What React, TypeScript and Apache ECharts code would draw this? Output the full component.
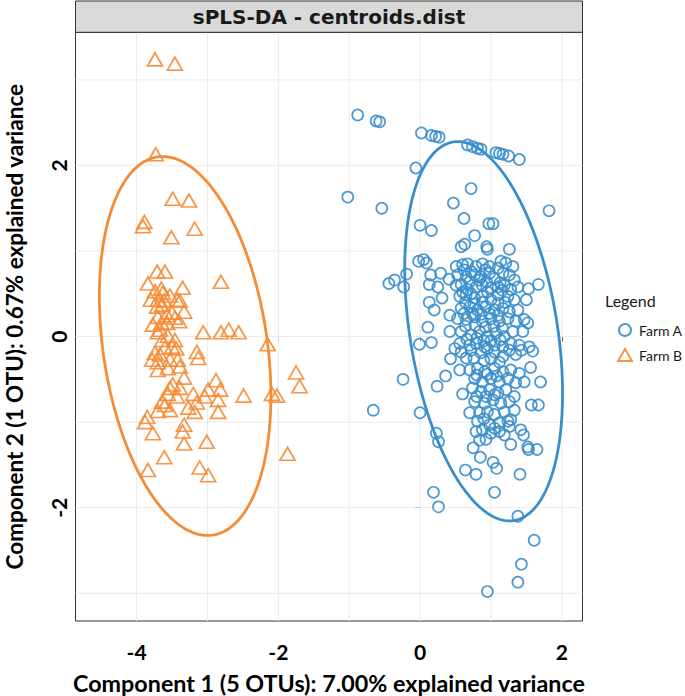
import React, { useEffect, useRef } from "react";
import * as echarts from "echarts";

// Axis extents (data units)
const xRange = [-4.862, 2.292];
const yRange = [-3.324, 3.556];
const xTickValues = [-4, -2, 0, 2];
const yTickValues = [-2, 0, 2];
const xGridValues = [-4, -3, -2, -1, 0, 1, 2];
const yGridValues = [-3, -2, -1, 0, 1, 2, 3];

const seriesNames = ["Farm A", "Farm B"];
const seriesColors = ["#388ECC", "#F68B33"];

// Farm A individuals (Component 1, Component 2)
const farmAPoints: [number, number][] = [
  [-0.88, 2.59], [-0.62, 2.52], [-0.57, 2.51], [0.02, 2.38], [0.16, 2.35], [0.22, 2.34], [0.27, 2.33],
  [0.67, 2.24], [0.74, 2.22], [0.81, 2.2], [0.86, 2.19], [1.07, 2.15], [1.12, 2.14], [1.17, 2.13],
  [1.25, 2.11], [1.4, 2.07], [-0.06, 1.97], [-1.02, 1.63], [0.72, 1.73], [-0.54, 1.5], [1.82, 1.47],
  [0.47, 1.56], [0.62, 1.38], [0.0, 1.3], [0.16, 1.24], [0.97, 1.32], [1.03, 1.32], [0.77, 1.18],
  [0.58, 1.05], [0.63, 1.08], [0.94, 1.05], [0.95, 1.02], [1.26, 1.02], [-0.02, 0.88], [0.05, 0.9],
  [0.09, 0.86], [-0.19, 0.73], [-0.44, 0.62], [-0.36, 0.66], [-0.23, 0.58], [0.15, 0.72], [0.29, 0.74],
  [0.13, 0.61], [0.25, 0.58], [0.41, 0.67], [0.31, 0.45], [0.13, 0.4], [0.2, 0.31], [0.42, 0.25],
  [1.53, 0.56], [1.67, 0.61], [1.5, 0.43], [0.11, 0.11],
  [0.51, 0.82], [0.6, 0.84], [0.67, 0.85], [0.79, 0.82], [0.88, 0.85], [0.98, 0.82], [1.14, 0.88],
  [1.21, 0.86], [1.31, 0.82],
  [0.53, 0.72], [0.65, 0.7], [0.77, 0.72], [0.86, 0.7], [0.98, 0.74], [1.05, 0.68], [1.17, 0.74],
  [1.26, 0.72], [1.33, 0.66],
  [0.51, 0.6], [0.58, 0.61], [0.67, 0.55], [0.79, 0.58], [0.88, 0.6], [1.0, 0.57], [1.1, 0.58],
  [1.19, 0.6], [1.28, 0.55], [1.38, 0.58],
  [0.56, 0.47], [0.65, 0.49], [0.77, 0.45], [0.88, 0.47], [1.0, 0.43], [1.1, 0.49], [1.24, 0.47],
  [1.33, 0.43],
  [0.58, 0.33], [0.7, 0.35], [0.81, 0.31], [0.93, 0.35], [1.05, 0.31], [1.17, 0.33], [1.26, 0.29],
  [1.38, 0.31],
  [0.53, 0.21], [0.65, 0.2], [0.77, 0.23], [0.88, 0.18], [1.0, 0.21], [1.12, 0.18], [1.24, 0.21],
  [1.35, 0.18], [1.47, 0.2], [1.52, 0.16], [1.45, 0.06], [0.42, 0.06],
  [0.58, 0.06], [0.72, 0.02], [0.84, 0.06], [0.95, 0.0], [1.07, 0.04], [1.19, 0.0], [1.31, 0.06],
  [-0.01, -0.09], [0.16, -0.07], [0.56, -0.08], [0.7, -0.1], [0.79, -0.08], [0.91, -0.12], [1.05, -0.1],
  [1.17, -0.12], [1.28, -0.08], [1.4, -0.1], [1.54, -0.12], [1.59, -0.17],
  [0.49, -0.14], [0.58, -0.18], [0.65, -0.25], [0.72, -0.16], [0.86, -0.19], [0.95, -0.14], [1.05, -0.18],
  [1.17, -0.23], [1.26, -0.16], [1.35, -0.21], [1.43, -0.16], [0.43, -0.26],
  [-0.24, -0.5], [0.24, -0.58], [0.36, -0.46], [0.0, -0.89], [0.23, -1.13], [0.26, -1.23], [0.56, -0.39],
  [0.6, -0.67], [1.56, -0.36], [1.7, -0.53], [1.57, -0.8], [1.67, -0.8],
  [0.7, -0.39], [0.81, -0.37], [0.91, -0.41], [1.05, -0.37], [1.17, -0.41], [1.28, -0.39], [1.4, -0.43],
  [1.47, -0.53],
  [0.77, -0.49], [0.88, -0.53], [1.0, -0.49], [1.12, -0.53], [1.24, -0.49], [1.35, -0.54],
  [0.74, -0.6], [0.86, -0.64], [0.98, -0.62], [1.1, -0.66], [1.21, -0.62], [1.33, -0.7],
  [0.77, -0.76], [0.91, -0.78], [1.03, -0.74], [1.14, -0.78], [1.26, -0.76],
  [0.7, -0.89], [0.84, -0.89], [0.95, -0.88], [1.05, -0.91], [1.19, -0.88], [1.33, -0.86],
  [0.81, -0.99], [0.98, -1.03], [1.12, -1.01], [1.24, -0.99], [1.28, -0.97],
  [0.79, -1.11], [0.88, -1.09], [1.0, -1.13], [1.12, -1.11], [1.19, -1.15], [1.26, -1.05], [0.84, -1.21],
  [1.42, -1.09], [1.46, -1.15], [1.28, -1.26], [1.52, -1.29], [1.53, -1.32], [1.65, -1.32],
  [0.75, -1.3], [0.85, -1.41], [1.03, -1.47], [1.08, -1.54], [0.64, -1.56], [0.79, -1.61], [1.41, -1.61],
  [1.05, -1.82], [0.19, -1.82], [0.26, -1.99], [1.38, -2.1], [1.61, -2.38], [1.43, -2.66], [1.38, -2.87],
  [0.95, -2.98], [-0.66, -0.86],
  // overlapping individuals in the dense core
  [0.62, 0.78], [0.72, 0.76], [0.92, 0.78], [1.1, 0.8], [0.7, 0.64], [0.83, 0.66], [0.94, 0.64],
  [1.13, 0.63], [0.6, 0.52], [0.72, 0.5], [0.95, 0.52], [1.16, 0.54], [0.64, 0.4], [0.76, 0.38],
  [0.88, 0.4], [1.1, 0.39], [1.2, 0.4], [0.62, 0.27], [0.74, 0.27], [0.86, 0.26], [0.98, 0.27],
  [1.1, 0.25], [0.64, 0.12], [0.78, 0.13], [0.92, 0.11], [1.04, 0.12], [1.16, 0.1], [0.66, -0.03],
  [0.8, -0.02], [0.9, -0.05], [1.0, -0.05], [1.13, -0.04], [0.76, -0.25], [0.9, -0.28], [1.0, -0.26],
  [1.12, -0.3], [0.8, -0.45], [0.95, -0.44], [1.08, -0.46], [0.8, -0.7], [0.93, -0.7], [1.05, -0.68],
  [0.9, -0.96], [1.05, -1.07], [0.93, -1.2],
];

// Farm B individuals (Component 1, Component 2)
const farmBPoints: [number, number][] = [
  [-3.74, 3.24], [-3.46, 3.19], [-3.73, 2.13], [-3.49, 1.61], [-3.26, 1.59], [-3.89, 1.34], [-3.91, 1.29],
  [-3.18, 1.26], [-3.51, 1.16], [-2.81, 0.64], [-3.71, 0.76], [-3.6, 0.76], [-3.84, 0.62], [-3.35, 0.57],
  [-3.74, 0.53], [-3.65, 0.56], [-3.7, 0.43], [-3.61, 0.42], [-3.43, 0.43], [-3.39, 0.42], [-3.71, 0.35],
  [-3.64, 0.37], [-3.33, 0.29], [-3.5, 0.28], [-3.57, 0.25], [-3.7, 0.23], [-3.4, 0.18], [-3.65, 0.16],
  [-3.57, 0.16], [-3.77, 0.14], [-3.7, 0.05], [-3.06, 0.05], [-2.81, 0.05], [-2.7, 0.08], [-2.56, 0.05],
  [-2.15, -0.09], [-3.64, -0.04], [-3.6, -0.13], [-3.5, -0.12], [-3.44, -0.14], [-3.15, -0.18],
  [-3.13, -0.25], [-3.74, -0.19], [-3.67, -0.21], [-3.78, -0.27], [-3.53, -0.27], [-3.42, -0.27],
  [-3.7, -0.3], [-3.7, -0.39], [-3.56, -0.37], [-3.39, -0.35], [-3.33, -0.48], [-2.88, -0.51],
  [-3.49, -0.56], [-3.53, -0.6], [-3.39, -0.6], [-2.99, -0.62], [-2.82, -0.62], [-3.2, -0.67],
  [-3.56, -0.67], [-3.43, -0.7], [-3.04, -0.7], [-2.49, -0.69], [-2.09, -0.67], [-2.02, -0.69],
  [-3.64, -0.76], [-3.6, -0.8], [-3.15, -0.77], [-2.85, -0.74], [-3.27, -0.83], [-3.53, -0.86],
  [-3.7, -0.87], [-3.18, -0.88], [-2.85, -0.88], [-3.85, -0.94], [-3.88, -1.0], [-3.33, -1.03],
  [-3.35, -1.11], [-3.77, -1.13], [-3.33, -1.25], [-3.01, -1.23], [-1.87, -1.37], [-3.61, -1.41],
  [-3.84, -1.56], [-3.11, -1.53], [-2.99, -1.62], [-1.75, -0.42], [-1.7, -0.58], [-3.63, 0.51],
  [-3.53, 0.48], [-3.8, 0.43], [-3.46, 0.22], [-3.67, 0.08], [-3.56, 0.01], [-3.46, -0.04],
];

// 95% confidence ellipses: centre, offset of top-most point, half width through centre
const ellipseCentres = [[0.897, 0.062], [-3.315, -0.11]];
const ellipseTopOffsets = [[-0.365, 2.216], [-0.317, 2.214]];
const ellipseHalfWidths = [1.052, 1.168];

function ellipsePath(i: number): [number, number][] {
  const [cx, cy] = ellipseCentres[i];
  const [tx, ty] = ellipseTopOffsets[i];
  const hw = ellipseHalfWidths[i];
  const pts: [number, number][] = [];
  const n = 240;
  for (let k = 0; k <= n; k++) {
    const t = (2 * Math.PI * k) / n;
    pts.push([cx + tx * Math.cos(t) + hw * Math.sin(t), cy + ty * Math.cos(t)]);
  }
  return pts;
}

const AXIS_FONT = "Lato";

export default function App() {
  const ref = useRef<HTMLDivElement>(null);
  useEffect(() => {
    document.body.style.margin = "0";
    if (!ref.current) return;
    const chart = echarts.init(ref.current, undefined, { renderer: "svg" });

    const gridSeries: any[] = [];
    xGridValues.forEach((v) =>
      gridSeries.push({
        type: "line",
        name: "gx" + v,
        data: [[v, yRange[0]], [v, yRange[1]]],
        symbol: "none",
        silent: true,
        z: 1,
        lineStyle: { color: "#EBEBEB", width: 1 },
      })
    );
    yGridValues.forEach((v) =>
      gridSeries.push({
        type: "line",
        name: "gy" + v,
        data: [[xRange[0], v], [xRange[1], v]],
        symbol: "none",
        silent: true,
        z: 1,
        lineStyle: { color: "#EBEBEB", width: 1 },
      })
    );

    const option: any = {
      animation: false,
      backgroundColor: "#ffffff",
      grid: {
        left: 75.5,
        right: 102.5,
        top: 32.3,
        bottom: 75,
        show: true,
        borderColor: "#333333",
        borderWidth: 1,
        backgroundColor: "#ffffff",
        containLabel: false,
        outerBoundsMode: "none",
      },
      xAxis: {
        type: "value",
        min: xRange[0],
        max: xRange[1],
        splitLine: { show: false },
        axisLine: { show: false },
        axisTick: {
          show: true,
          customValues: xTickValues,
          length: 5,
          lineStyle: { color: "#333333", width: 1 },
        },
        axisLabel: {
          customValues: xTickValues,
          fontFamily: AXIS_FONT,
          fontWeight: "bold",
          fontSize: 21,
          color: "#000000",
          margin: 20,
        },
        name: "Component 1 (5 OTUs): 7.00% explained variance",
        nameLocation: "middle",
        nameGap: 50,
        nameTextStyle: { fontFamily: AXIS_FONT, fontWeight: "bold", fontSize: 23.3, color: "#000000" },
      },
      yAxis: {
        type: "value",
        min: yRange[0],
        max: yRange[1],
        splitLine: { show: false },
        axisLine: { show: false },
        axisTick: {
          show: true,
          customValues: yTickValues,
          length: 5,
          lineStyle: { color: "#333333", width: 1 },
        },
        axisLabel: {
          customValues: yTickValues,
          rotate: 90,
          fontFamily: AXIS_FONT,
          fontWeight: "bold",
          fontSize: 21,
          color: "#000000",
          margin: 7,
        },
        name: "Component 2 (1 OTU): 0.67% explained variance",
        nameLocation: "middle",
        nameRotate: 90,
        nameGap: 49,
        nameTextStyle: {
          fontFamily: AXIS_FONT,
          fontWeight: "bold",
          fontSize: 22.5,
          lineHeight: 24,
          color: "#000000",
        },
      },
      legend: {
        orient: "vertical",
        left: 612,
        top: 317,
        itemWidth: 14,
        itemHeight: 12,
        itemGap: 9,
        textStyle: { fontFamily: AXIS_FONT, fontSize: 14, color: "#1A1A1A", lineHeight: 16, padding: [0, 0, 0, 2] },
        data: [
          {
            name: seriesNames[0],
            icon: "circle",
            itemStyle: { color: "rgba(0,0,0,0)", borderColor: seriesColors[0], borderWidth: 2 },
          },
          {
            name: seriesNames[1],
            icon: "triangle",
            itemStyle: { color: "rgba(0,0,0,0)", borderColor: seriesColors[1], borderWidth: 2 },
          },
        ],
      },
      graphic: [
        {
          type: "rect",
          shape: { x: 75.5, y: 1, width: 507, height: 31.3 },
          style: { fill: "#D9D9D9", stroke: "#333333", lineWidth: 1 },
          z: 10,
        },
        {
          type: "text",
          x: 329,
          y: 17,
          z: 11,
          style: {
            text: "sPLS-DA - centroids.dist",
            font: "bold 20px 'DejaVu Sans'",
            fill: "#1A1A1A",
            align: "center",
            verticalAlign: "middle",
            textAlign: "center",
            textVerticalAlign: "middle",
          },
        },
        {
          type: "text",
          x: 605,
          y: 300,
          style: {
            text: "Legend",
            font: "16px Lato",
            fill: "#1A1A1A",
            align: "left",
            verticalAlign: "middle",
            textAlign: "left",
            textVerticalAlign: "middle",
          },
        },
      ],
      series: [
        ...gridSeries,
        {
          type: "line",
          name: "ellipseA",
          data: ellipsePath(0),
          symbol: "none",
          silent: true,
          z: 3,
          lineStyle: { color: seriesColors[0], width: 2.8 },
        },
        {
          type: "line",
          name: "ellipseB",
          data: ellipsePath(1),
          symbol: "none",
          silent: true,
          z: 3,
          lineStyle: { color: seriesColors[1], width: 2.8 },
        },
        {
          type: "scatter",
          name: seriesNames[0],
          data: farmAPoints,
          symbol: "circle",
          symbolSize: 11,
          z: 4,
          itemStyle: { color: "rgba(0,0,0,0)", borderColor: seriesColors[0], borderWidth: 1.7, opacity: 0.9 },
        },
        {
          type: "scatter",
          name: seriesNames[1],
          data: farmBPoints,
          symbol: "triangle",
          symbolSize: [15, 13],
          z: 4,
          itemStyle: { color: "rgba(0,0,0,0)", borderColor: seriesColors[1], borderWidth: 1.7, opacity: 0.9 },
        },
      ],
    };
    chart.setOption(option);
    return () => chart.dispose();
  }, []);
  return (
    <div
      ref={ref}
      style={{ position: "absolute", left: 0, top: 0, width: 685, height: 696 }}
    />
  );
}
